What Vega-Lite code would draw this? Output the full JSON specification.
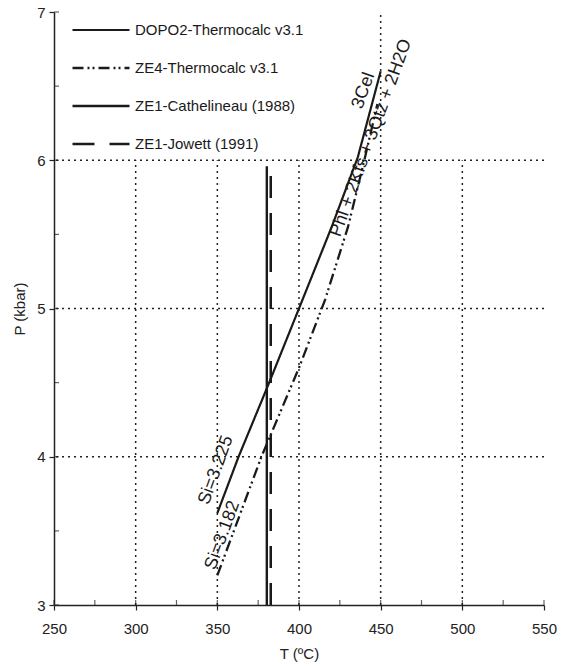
{
  "$schema": "https://vega.github.io/schema/vega-lite/v6.json",
  "width": 490,
  "height": 593,
  "autosize": "none",
  "padding": {"left": 54, "top": 12, "right": 23, "bottom": 61},
  "background": "white",
  "config": {
    "font": "Liberation Sans",
    "view": {"stroke": null},
    "axis": {
      "domainColor": "#222",
      "domainWidth": 1.5,
      "tickColor": "#222",
      "tickWidth": 1.2,
      "labelColor": "#222",
      "titleColor": "#222",
      "labelFont": "Liberation Sans",
      "titleFont": "Liberation Sans",
      "labelFontSize": 15,
      "titleFontSize": 15,
      "titleFontWeight": "normal",
      "labelFlush": false,
      "labelOverlap": false,
      "grid": false
    }
  },
  "datasets": {
    "curves": [
      {"series": "DOPO2-Thermocalc v3.1", "T": 350, "P": 3.62},
      {"series": "DOPO2-Thermocalc v3.1", "T": 363, "P": 4.0},
      {"series": "DOPO2-Thermocalc v3.1", "T": 381, "P": 4.48},
      {"series": "DOPO2-Thermocalc v3.1", "T": 400, "P": 5.0},
      {"series": "DOPO2-Thermocalc v3.1", "T": 420, "P": 5.55},
      {"series": "DOPO2-Thermocalc v3.1", "T": 436, "P": 6.02},
      {"series": "DOPO2-Thermocalc v3.1", "T": 450, "P": 6.6},
      {"series": "ZE4-Thermocalc v3.1", "T": 350, "P": 3.2},
      {"series": "ZE4-Thermocalc v3.1", "T": 377, "P": 4.0},
      {"series": "ZE4-Thermocalc v3.1", "T": 400, "P": 4.6},
      {"series": "ZE4-Thermocalc v3.1", "T": 416, "P": 5.06},
      {"series": "ZE4-Thermocalc v3.1", "T": 430, "P": 5.55},
      {"series": "ZE4-Thermocalc v3.1", "T": 440, "P": 6.0},
      {"series": "ZE4-Thermocalc v3.1", "T": 448, "P": 6.38},
      {"series": "ZE1-Cathelineau (1988)", "T": 380.3, "P": 3.0},
      {"series": "ZE1-Cathelineau (1988)", "T": 380.3, "P": 5.96},
      {"series": "ZE1-Jowett (1991)", "T": 382.7, "P": 3.0},
      {"series": "ZE1-Jowett (1991)", "T": 382.7, "P": 5.96}
    ],
    "vgrid": [
      {"T": 300, "P0": 3, "P1": 6},
      {"T": 350, "P0": 3, "P1": 6},
      {"T": 400, "P0": 3, "P1": 6},
      {"T": 450, "P0": 3, "P1": 7},
      {"T": 500, "P0": 3, "P1": 6}
    ],
    "hgrid": [{"P": 4}, {"P": 5}, {"P": 6}],
    "xticks": [{"T": 250}, {"T": 275}, {"T": 300}, {"T": 325}, {"T": 350}, {"T": 375}, {"T": 400}, {"T": 425}, {"T": 450}, {"T": 475}, {"T": 500}, {"T": 525}, {"T": 550}],
    "yticks": [{"P": 3}, {"P": 3.5}, {"P": 4}, {"P": 4.5}, {"P": 5}, {"P": 5.5}, {"P": 6}, {"P": 6.5}, {"P": 7}],
    "labels": [
      {"label": "Si=3.225", "T": 349.2, "P": 3.91},
      {"label": "Si=3.182", "T": 353.2, "P": 3.47},
      {"label": "3Cel", "T": 439.5, "P": 6.47},
      {"label": "Phl + 2Kfs + 3Qtz + 2H2O", "T": 444.1, "P": 6.15}
    ]
  },
  "layer": [
    {
      "data": {"name": "hgrid"},
      "mark": {"type": "rule", "strokeDash": [2, 4], "strokeWidth": 1.5, "color": "#222"},
      "encoding": {
        "y": {"field": "P", "type": "quantitative", "scale": {"domain": [3, 7], "nice": false},
          "axis": {"values": [3, 4, 5, 6, 7], "format": "d", "title": "P (kbar)", "tickSize": 5, "labelPadding": 4, "titlePadding": 9}}
      }
    },
    {
      "data": {"name": "vgrid"},
      "mark": {"type": "rule", "strokeDash": [2, 4], "strokeWidth": 1.5, "color": "#222"},
      "encoding": {
        "x": {"field": "T", "type": "quantitative", "scale": {"domain": [250, 550], "nice": false},
          "axis": {"values": [250, 300, 350, 400, 450, 500, 550], "title": "T (ºC)", "tickSize": 5, "labelPadding": 11, "titlePadding": 10}},
        "y": {"field": "P0", "type": "quantitative"},
        "y2": {"field": "P1"}
      }
    },
    {
      "mark": {"type": "rule", "color": "#222", "strokeWidth": 1.5},
      "encoding": {"y": {"datum": 7}}
    },
    {
      "data": {"name": "xticks"},
      "mark": {"type": "tick", "orient": "vertical", "size": 5, "thickness": 1.2, "yOffset": -2.5, "color": "#222"},
      "encoding": {
        "x": {"field": "T", "type": "quantitative"},
        "y": {"datum": 3}
      }
    },
    {
      "data": {"name": "yticks"},
      "mark": {"type": "tick", "orient": "horizontal", "size": 5, "thickness": 1.2, "xOffset": 2.5, "color": "#222"},
      "encoding": {
        "y": {"field": "P", "type": "quantitative"},
        "x": {"datum": 250}
      }
    },
    {
      "data": {"name": "curves"},
      "mark": {"type": "line", "color": "#1a1a1a"},
      "encoding": {
        "x": {"field": "T", "type": "quantitative"},
        "y": {"field": "P", "type": "quantitative"},
        "order": {"field": "P", "type": "quantitative"},
        "strokeDash": {
          "field": "series", "type": "nominal",
          "scale": {
            "domain": ["DOPO2-Thermocalc v3.1", "ZE4-Thermocalc v3.1", "ZE1-Cathelineau (1988)", "ZE1-Jowett (1991)"],
            "range": [[1, 0], [11, 4, 2, 3, 2, 4], [1, 0], [22, 15]]
          },
          "legend": {
            "title": null,
            "orient": "none",
            "legendX": 17,
            "legendY": -12,
            "padding": 0,
            "symbolType": "stroke",
            "symbolSize": 3249,
            "symbolStrokeWidth": 2.5,
            "symbolStrokeColor": "#1a1a1a",
            "labelFontSize": 15,
            "labelFont": "Liberation Sans",
            "labelColor": "#1a1a1a",
            "labelLimit": 400,
            "rowPadding": -15.5,
            "labelOffset": 4
          }
        },
        "strokeWidth": {
          "field": "series", "type": "nominal",
          "scale": {
            "domain": ["DOPO2-Thermocalc v3.1", "ZE4-Thermocalc v3.1", "ZE1-Cathelineau (1988)", "ZE1-Jowett (1991)"],
            "range": [2.2, 2.5, 3.5, 2.5]
          },
          "legend": null
        }
      }
    },
    {
      "data": {"name": "labels"},
      "mark": {"type": "text", "angle": 290, "font": "Liberation Sans", "fontSize": 18, "color": "#1a1a1a", "align": "center", "baseline": "middle"},
      "encoding": {
        "x": {"field": "T", "type": "quantitative"},
        "y": {"field": "P", "type": "quantitative"},
        "text": {"field": "label"}
      }
    }
  ]
}
